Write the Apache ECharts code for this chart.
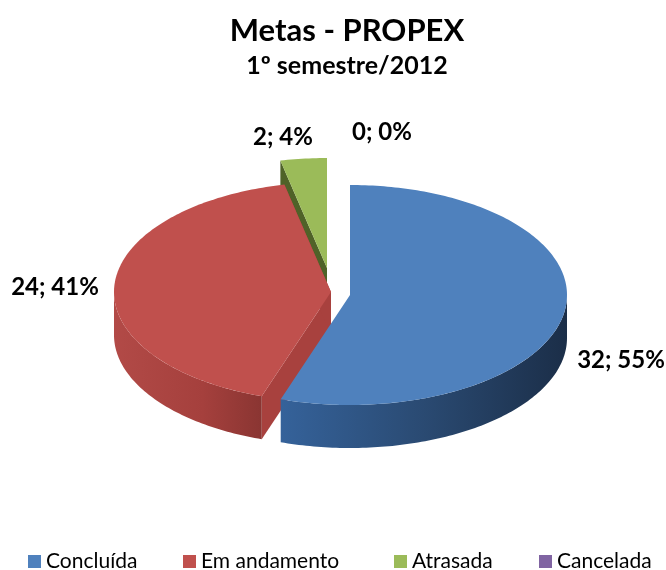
<!DOCTYPE html>
<html><head><meta charset="utf-8">
<style>html,body{margin:0;padding:0;background:#fff}#c{width:666px;height:570px}</style>
<script src="https://cdn.jsdelivr.net/npm/echarts@6/dist/echarts.min.js"></script>
</head><body><div id="c"></div>
<script>
const categories = ['Concluída', 'Em andamento', 'Atrasada', 'Cancelada'];
const values = [32, 24, 2, 0];
const percents = [55, 41, 4, 0];
const colors = ['#4F81BD', '#C0504D', '#9BBB59', '#8064A2'];

const centers = [[350, 295], [331, 292], [327, 268], [350, 295]];
const stackOrder = [3, 2, 1, 0];
const labelAnchors = [[621, 360], [55, 287], [283, 137], [382, 132]];
const legendLefts = [28, 183, 394, 539];
const radiusX = 217, radiusY = 110, depth = 43;
const wallStops = [
  [['#35629A', 0], ['#2A4A72', 0.5], ['#1B2E48', 1]],
  [['#B24A47', 0], ['#A5403D', 0.6], ['#8A3532', 1]],
  [['#6F8A3E', 0], ['#6F8A3E', 1]],
  [['#5E4A78', 0], ['#5E4A78', 1]]
];
const cutWallColors = ['#2A4A72', '#A8413E', '#4F6228', '#5E4A78'];

const total = values.reduce((a, b) => a + b, 0);

function arcPoint(c, deg) {
  const r = deg * Math.PI / 180;
  return [c[0] + radiusX * Math.sin(r), c[1] - radiusY * Math.cos(r)];
}
function arc(c, a0, a1) {
  const pts = [];
  const n = Math.max(2, Math.ceil(Math.abs(a1 - a0)));
  for (let i = 0; i <= n; i++) pts.push(arcPoint(c, a0 + (a1 - a0) * i / n));
  return pts;
}
const down = p => [p[0], p[1] + depth];

function makeRender(idx) {
  return function () {
    const before = values.slice(0, idx).reduce((a, b) => a + b, 0);
    const a0 = before / total * 360;
    const a1 = (before + values[idx]) / total * 360;
    const c = centers[idx];
    const children = [];
    const base = colors[idx];
    if (values[idx] > 0) {
      if (a0 > 180) {
        const e = arcPoint(c, a0);
        children.push({ type: 'polygon', shape: { points: [c, e, down(e), down(c)] },
          style: { fill: cutWallColors[idx] } });
      }
      if (a1 > 270) {
        const e = arcPoint(c, a1);
        children.push({ type: 'polygon', shape: { points: [c, e, down(e), down(c)] },
          style: { fill: cutWallColors[idx] } });
      }
      const w0 = Math.max(a0, 90), w1 = Math.min(a1, 270);
      if (w1 > w0) {
        const rim = arc(c, w0, w1);
        const xs = rim.map(p => p[0]);
        const minX = Math.min(...xs), maxX = Math.max(...xs);
        const stops = wallStops[idx].map(s => ({ color: s[0], offset: s[1] }));
        children.push({ type: 'polygon',
          shape: { points: rim.concat(rim.slice().reverse().map(down)) },
          style: { fill: { type: 'linear', global: true, x: minX, y: 0, x2: maxX, y2: 0, colorStops: stops } } });
      }
      children.push({ type: 'polygon', shape: { points: [c].concat(arc(c, a0, a1)) }, style: { fill: base } });
    }
    children.push({ type: 'text', x: labelAnchors[idx][0], y: labelAnchors[idx][1], z2: 10,
      style: { text: values[idx] + '; ' + percents[idx] + '%', fill: '#000',
        font: 'bold 24px Lato', align: 'center', verticalAlign: 'middle' } });
    return { type: 'group', children };
  };
}

const chart = echarts.init(document.getElementById('c'), null, { renderer: 'canvas' });
chart.setOption({
  animation: false,
  backgroundColor: '#fff',
  color: colors,
  title: {
    text: 'Metas - PROPEX', subtext: '1º semestre/2012', left: 342, textAlign: 'center', top: 10, itemGap: 7,
    textStyle: { fontFamily: 'Lato', fontWeight: 'bold', fontSize: 31, color: '#000' },
    subtextStyle: { fontFamily: 'Lato', fontWeight: 'bold', fontSize: 25, color: '#000' }
  },
  legend: categories.map((name, i) => ({
    left: legendLefts[i], top: 551, padding: 0, itemWidth: 13, itemHeight: 13, icon: 'rect',
    textStyle: { fontFamily: 'Lato', fontSize: 21, color: '#000' },
    data: [name]
  })),
  series: categories.map((name, i) => ({
    type: 'custom', name, coordinateSystem: 'none', z: stackOrder[i] + 2,
    itemStyle: { color: colors[i] }, silent: true,
    data: [[values[i]]], renderItem: makeRender(i)
  }))
});
</script></body></html>
